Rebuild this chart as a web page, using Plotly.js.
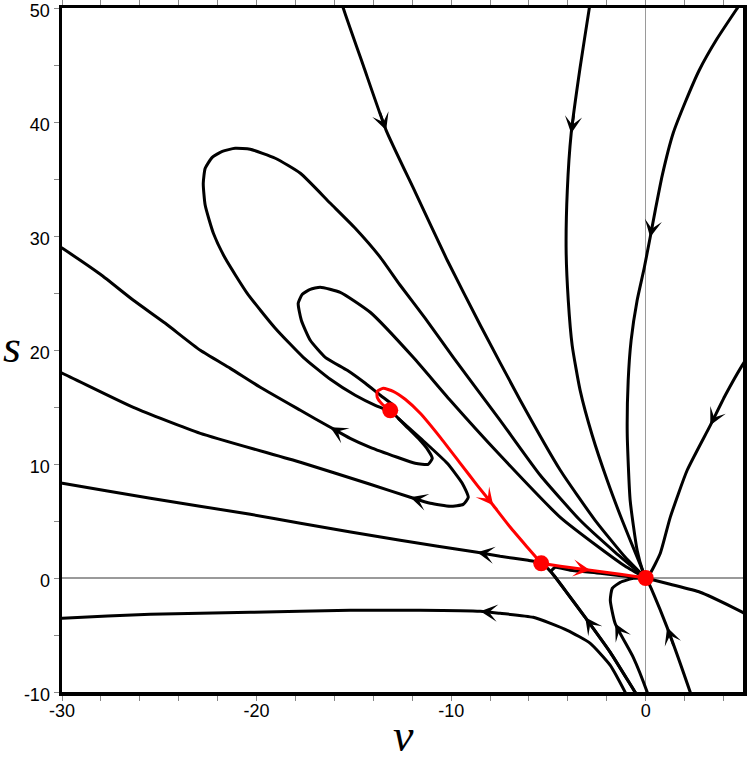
<!DOCTYPE html>
<html><head><meta charset="utf-8">
<script src="https://cdn.plot.ly/plotly-3.0.1.min.js"></script>
<style>html,body{margin:0;padding:0;background:#fff}#chart{width:747px;height:760px}</style>
</head><body><div id="chart"></div>
<script>
// Streamlines of the phase portrait (v, s), each ordered along the flow
const A_v = [-15.70,-15.54,-14.52,-13.34,-11.84,-10.20,-8.50,-6.45,-4.39,-2.60,-1.05,0];
const A_s = [51.03,49.97,44.97,39.27,33.83,27.87,22.17,15.59,9.45,5.06,1.82,0];
const B_v = [-13.23,-13.90,-14.93,-16.21,-17.60,-19.04,-20.48,-21.61,-22.22,-22.64,-22.74,-22.64,-22.28,-21.76,-21.10,-20.33,-19.04,-17.75,-16.21,-14.93,-13.64,-12.62,-11.33,-9.89,-7.48,-5.42,-3.37,-1.57,0];
const B_s = [14.71,15.15,16.03,17.43,19.36,21.91,24.97,28.04,30.24,32.69,34.62,35.94,36.90,37.43,37.69,37.61,36.82,35.50,32.87,30.68,28.13,25.68,22.78,19.36,13.83,9.01,5.06,2.25,0];
const C_v = [-13.03,-13.64,-14.41,-15.34,-16.47,-17.24,-17.70,-17.86,-17.65,-17.24,-16.73,-15.70,-14.16,-11.95,-10.05,-7.48,-4.39,-2.34,-1.05,0];
const C_s = [15.24,16.03,17.08,18.22,19.36,20.85,22.61,24.10,24.89,25.32,25.50,25.06,23.31,19.36,15.59,10.76,5.32,2.61,1.03,0];
const D1_v = [-12.87,-12.36,-11.69,-11.18,-10.97,-11.18,-11.85,-12.77,-14.16,-15.19,-16.21,-17.75,-19.81,-21.35,-22.89,-24.69,-26.33,-28.03,-29.98,-30.6];
const D1_s = [14.27,13.39,12.25,11.20,10.50,9.97,10.06,10.59,11.46,12.25,13.22,14.71,16.73,18.39,19.97,22.34,24.36,26.64,28.92,29.6];
const D2_v = [-12.72,-11.46,-10.20,-9.43,-9.12,-9.38,-10.05,-11.07,-12.10,-14.16,-17.75,-22.89,-26.33,-29.98,-30.6];
const D2_s = [14.01,12.08,10.06,8.31,7.08,6.46,6.29,6.55,7.08,8.22,10.15,12.69,14.97,17.96,18.4];
const E_v = [-0.28,-0.54,-1.82,-3.11,-4.14,-4.81,-5.16,-5.52,-6.04,-7.48,-8.66,-12.62,-17.75,-20.32,-25.46,-29.98,-30.6];
const E_s = [-10.72,-10.03,-6.52,-3.45,-1.08,0.41,1.03,1.38,1.55,1.90,2.25,3.31,4.80,5.59,6.99,8.31,8.5];
const Er_v = [-0.28,-0.54,-1.82,-3.11,-4.14,-4.60,-4.86,-4.65,-3.88,-2.34,-1.05,0];
const Er_s = [-10.72,-10.03,-6.52,-3.45,-1.08,-0.03,0.59,0.94,0.68,0.41,0.15,0];
const F_v = [-0.90,-1.05,-1.82,-2.85,-4.03,-5.78,-7.48,-8.50,-11.59,-15.19,-20.33,-25.46,-29.98,-30.6];
const F_s = [-10.55,-10.03,-7.66,-5.73,-4.59,-3.45,-3.10,-2.92,-2.83,-2.83,-3.01,-3.18,-3.53,-3.58];
const G_v = [0.18,0.08,-0.64,-1.57,-1.82,-1.72,-1.31,-0.64,0];
const G_s = [-10.55,-10.03,-6.96,-3.99,-1.96,-0.91,-0.38,-0.03,0];
const H_v = [2.39,2.29,1.10,0.39,0.08,0];
const H_s = [-10.55,-10.03,-4.33,-1.34,-0.20,0];
const I_v = [5.37,4.96,4.09,3.32,2.13,1.26,0.75,0.23,0];
const I_s = [19.71,18.66,16.03,13.39,9.45,5.32,2.17,0.41,0];
const J_v = [5.37,5.01,4.50,2.80,1.26,0];
const J_s = [-3.4,-3.04,-2.59,-1.25,-0.55,0];
const K_v = [4.91,4.70,3.68,2.75,2.03,1.41,0.85,0.49,0.23,-0.08,-0.44,-0.75,-0.90,-0.95,-0.80,-0.44,-0.13,0];
const K_s = [50.5,49.97,47.34,44.54,41.73,39.01,35.32,32.25,29.89,27.17,24.36,20.85,17.34,12.69,6.82,2.43,0.50,0];
const L_v = [-2.85,-2.90,-3.37,-3.83,-4.03,-4.09,-3.98,-3.78,-3.37,-2.75,-1.98,-1.21,-0.54,0];
const L_s = [50.5,49.97,44.80,39.0,33.99,28.75,24.36,20.41,16.46,12.52,8.57,5.06,2.25,0];
// Red heteroclinic path: spiral -> saddle -> node
const R1_v = [-13.13,-13.54,-13.80,-13.80,-13.49,-12.98,-12.36,-11.59,-10.56,-9.53,-8.66,-7.84,-6.96,-6.04,-5.37];
const R1_s = [14.71,15.24,15.85,16.38,16.64,16.38,15.68,14.45,12.34,10.06,8.13,6.38,4.45,2.61,1.29];
const R2_v = [-5.37,-4.39,-2.85,-1.31,0];
const R2_s = [1.29,1.03,0.68,0.32,0];
// Fixed points
const fp_v = [-13.13,-5.37,0];
const fp_s = [14.71,1.29,0];
// Axis ticks
const xTickVals = [-30,-20,-10,0];
const xTickText = ['-30','-20','-10','0'];
const yTickVals = [-10,0,10,20,30,40,50];
const yTickText = ['-10','0','10','20','30','40','50'];

const BLACK = '#000000', RED = '#ff0000';
const curves = [
  {v:A_v,s:A_s,arrows:[3],c:BLACK},
  {v:B_v,s:B_s,arrows:[11],c:BLACK},
  {v:C_v,s:C_s,arrows:[10],c:BLACK},
  {v:D1_v,s:D1_s,arrows:[10],c:BLACK},
  {v:D2_v,s:D2_s,arrows:[8],c:BLACK},
  {v:E_v,s:E_s,arrows:[3,10],c:BLACK},
  {v:Er_v,s:Er_s,arrows:[],c:BLACK},
  {v:F_v,s:F_s,arrows:[7],c:BLACK},
  {v:G_v,s:G_s,arrows:[3],c:BLACK},
  {v:H_v,s:H_s,arrows:[2],c:BLACK},
  {v:I_v,s:I_s,arrows:[3],c:BLACK},
  {v:J_v,s:J_s,arrows:[2],c:BLACK},
  {v:K_v,s:K_s,arrows:[8],c:BLACK},
  {v:L_v,s:L_s,arrows:[3],c:BLACK},
  {v:R1_v,s:R1_s,arrows:[11],c:RED},
  {v:R2_v,s:R2_s,arrows:[2],c:RED}
];

const traces = curves.map(cv => ({
  x: cv.v, y: cv.s, type:'scatter', mode:'lines', hoverinfo:'skip',
  line:{color:cv.c, width:3, shape:'spline', smoothing:0.5}
}));
traces.push({x:fp_v, y:fp_s, type:'scatter', mode:'markers',
  marker:{color:RED, size:16, line:{width:0}}, hoverinfo:'skip'});

const annotations = [];
curves.forEach(cv => {
  cv.arrows.forEach(i => {
    const f = 0.3;
    annotations.push({
      x: cv.v[i], y: cv.s[i],
      ax: cv.v[i] + (cv.v[i-1]-cv.v[i])*f, ay: cv.s[i] + (cv.s[i-1]-cv.s[i])*f,
      xref:'x', yref:'y', axref:'x', ayref:'y', text:'', showarrow:true,
      arrowhead:3, arrowsize:1.15, arrowwidth:2.5, arrowcolor:cv.c, standoff:0
    });
  });
});
annotations.push({text:'<i>v</i>', xref:'paper', yref:'paper', x:0.502, y:-0.063,
  xanchor:'center', yanchor:'middle', showarrow:false,
  font:{family:'Liberation Serif, DejaVu Serif, serif', size:46, color:'#000'}});
annotations.push({text:'<i>s</i>', xref:'paper', yref:'paper', x:-0.074, y:0.505,
  xanchor:'center', yanchor:'middle', showarrow:false,
  font:{family:'Liberation Serif, DejaVu Serif, serif', size:46, color:'#000'}});

const tickFont = {family:'Liberation Sans, Arial, sans-serif', size:18, color:'#000'};
const axisCommon = {
  showline:true, linecolor:'#000', linewidth:3.5, mirror:'allticks',
  ticks:'outside', ticklen:5, tickwidth:1, tickcolor:'#888',
  showgrid:false, zeroline:true, zerolinecolor:'#9a9a9a', zerolinewidth:1.5,
  tickfont:tickFont, tickmode:'array', fixedrange:true, ticklabeloverflow:'allow'
};
const layout = {
  width:747, height:760,
  margin:{l:62, r:4, t:8, b:68},
  paper_bgcolor:'#fff', plot_bgcolor:'#fff', showlegend:false,
  xaxis: Object.assign({}, axisCommon, {range:[-30,5], tickvals:xTickVals, ticktext:xTickText,
    ticklabelstandoff:-5,
    minor:{dtick:2, tick0:0, ticks:'outside', ticklen:5, tickcolor:'#888', tickwidth:1, showgrid:false}}),
  yaxis: Object.assign({}, axisCommon, {range:[-10,50], tickvals:yTickVals, ticktext:yTickText,
    ticklabelshift:3,
    minor:{dtick:5, tick0:0, ticks:'outside', ticklen:5, tickcolor:'#888', tickwidth:1, showgrid:false}}),
  annotations: annotations
};
Plotly.newPlot('chart', traces, layout, {staticPlot:true, displayModeBar:false});
</script>
</body></html>
